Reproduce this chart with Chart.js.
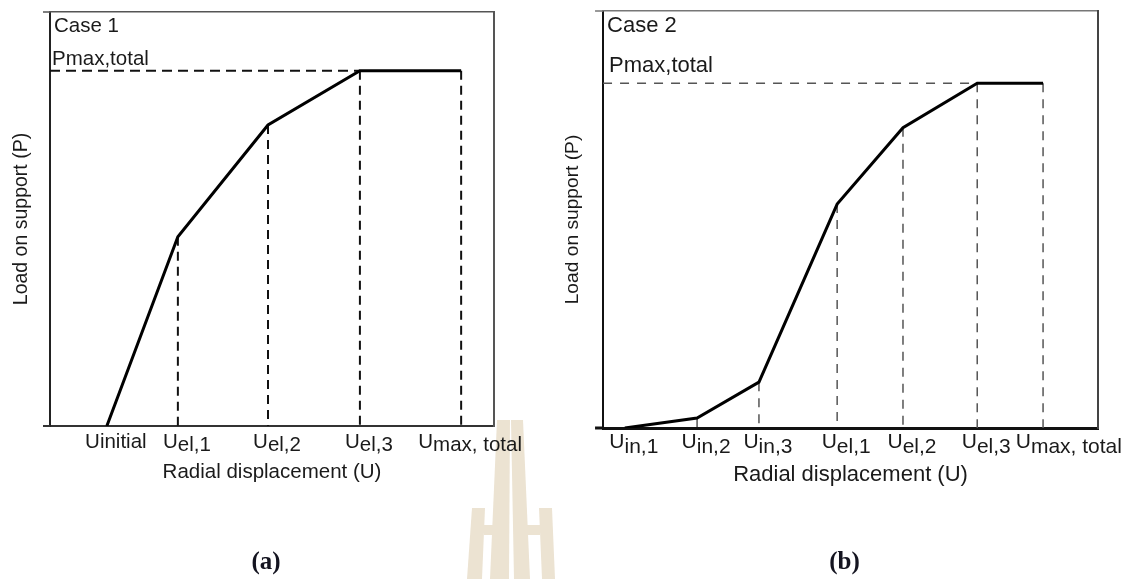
<!DOCTYPE html>
<html>
<head>
<meta charset="utf-8">
<title>Load on support vs radial displacement</title>
<script src="https://cdn.jsdelivr.net/npm/chart.js@4.4.1/dist/chart.umd.min.js"></script>
<style>
  html, body { margin: 0; padding: 0; background: #fff; }
  #page { position: relative; width: 1142px; height: 579px; overflow: hidden; }
  #page canvas { position: absolute; top: 0; z-index: 1; }
  #chartA { left: 0; }
  #chartB { left: 560px; }
  #mark { position: absolute; left: 0; top: 0; z-index: 0; }
</style>
</head>
<body>
<div id="page">
  <svg id="mark" width="1142" height="579">
    <g fill="#ece3d2">
      <polygon points="497,420 510,420 509,579 490,579"/>
      <polygon points="511,420 523,420 530,579 514,579"/>
      <polygon points="472,508 485,508 482,579 467,579"/>
      <polygon points="539,508 552,508 555,579 542,579"/>
      <rect x="484" y="525" width="10" height="10"/>
      <rect x="526" y="525" width="14" height="10"/>
    </g>
  </svg>
  <canvas id="chartA" width="560" height="579"></canvas>
  <canvas id="chartB" width="582" height="579"></canvas>
</div>
<script>
// Case 1 (a)
const labelsA = ['Uinitial', 'Uel,1', 'Uel,2', 'Uel,3', 'Umax, total'];
const dispA = [12.8, 28.8, 49.1, 69.8, 92.6];
const loadA = [0, 45.7, 72.7, 85.8, 85.8];

// Case 2 (b)
const labelsB = ['Uin,1', 'Uin,2', 'Uin,3', 'Uel,1', 'Uel,2', 'Uel,3', 'Umax, total'];
const dispB = [4.4, 19.0, 31.5, 47.3, 60.6, 75.6, 88.9];
const loadB = [0, 2.4, 11.0, 53.7, 72.0, 82.7, 82.7];

const SANS = '"Liberation Sans", Arial, sans-serif';

// draws the subscript tick labels, the case name, Pmax label and panel letter
const panelText = {
    id: 'panelText',
    afterDraw(chart, args, o) {
        const ctx = chart.ctx;
        const area = chart.chartArea;
        const xs = chart.scales.x, ys = chart.scales.y;
        ctx.save();
        ctx.fillStyle = '#1a1a1a';
        ctx.textBaseline = 'alphabetic';
        ctx.textAlign = 'left';

        // little overhang of the bottom axis and top frame to the left
        ctx.strokeStyle = o.axisColor;
        ctx.lineWidth = o.axisWidth;
        ctx.beginPath();
        ctx.moveTo(area.left - o.overhang, area.bottom);
        ctx.lineTo(area.left, area.bottom);
        ctx.stroke();
        ctx.strokeStyle = o.topColor;
        ctx.lineWidth = 1.5;
        ctx.beginPath();
        ctx.moveTo(area.left - o.overhang, area.top);
        ctx.lineTo(area.left, area.top);
        ctx.stroke();

        ctx.font = o.tickSize + 'px ' + SANS;
        let prevRight = -Infinity;
        for (let i = 0; i < o.labels.length; i++) {
            const main = o.labels[i].charAt(0);
            const sub = o.labels[i].slice(1);
            const wm = ctx.measureText(main).width;
            const w = wm + ctx.measureText(sub).width;
            let left = xs.getPixelForValue(o.at[i]) + 9 - w / 2;
            if (left < prevRight + 5) left = prevRight + 5;
            const base = area.bottom + o.tickGap;
            ctx.fillText(main, left, base);
            ctx.fillText(sub, left + wm, base + (o.flat.indexOf(i) >= 0 ? 0 : o.subDrop));
            prevRight = left + w;
        }

        ctx.font = o.textSize + 'px ' + SANS;
        ctx.fillText(o.caseName, area.left + 4, area.top + o.caseBase);
        ctx.fillText('Pmax,total', area.left + o.pmaxLeft, ys.getPixelForValue(o.pmax) - o.pmaxLift);

        ctx.font = 'bold 25px "Liberation Serif", "Times New Roman", serif';
        ctx.textAlign = 'center';
        ctx.fillStyle = '#141420';
        ctx.fillText(o.letter, (area.left + area.right) / 2 - 6, o.letterBase);
        ctx.restore();
    }
};

function guides(disp, load, color, width, dash, hdash) {
    let sets = [];
    for (let i = 1; i < disp.length; i++) {
        sets.push({
            data: [{x: disp[i], y: load[i]}, {x: disp[i], y: 0}],
            borderColor: color, borderWidth: width, borderDash: dash,
            pointRadius: 0, fill: false
        });
    }
    const top = Math.max.apply(null, load);
    const k = load.indexOf(top);
    sets.push({
        data: [{x: 0, y: top}, {x: disp[k], y: top}],
        borderColor: color, borderWidth: width, borderDash: hdash,
        pointRadius: 0, fill: false
    });
    return sets;
}

function makeChart(id, s) {
    const curve = s.disp.map((d, i) => ({x: d, y: s.load[i]}));
    const datasets = [{
        data: curve,
        borderColor: '#000', borderWidth: 3, tension: 0,
        pointRadius: 0, fill: false, borderJoinStyle: 'miter'
    }].concat(guides(s.disp, s.load, s.guideColor, s.guideWidth, s.dash, s.hdash));

    const hidden = {display: false, drawTicks: false};
    return new Chart(document.getElementById(id).getContext('2d'), {
        type: 'line',
        data: {datasets: datasets},
        options: {
            responsive: false,
            animation: false,
            devicePixelRatio: 1,
            events: [],
            layout: {autoPadding: false, padding: s.padding},
            plugins: {
                legend: {display: false},
                tooltip: {enabled: false},
                panelText: {
                    labels: s.labels, at: s.disp, flat: s.flat,
                    tickSize: s.tickSize, tickGap: s.tickGap, subDrop: s.subDrop,
                    textSize: s.textSize, caseName: s.caseName, caseBase: s.caseBase,
                    pmax: Math.max.apply(null, s.load), pmaxLeft: s.pmaxLeft, pmaxLift: s.pmaxLift,
                    letter: s.letter, letterBase: 569,
                    axisColor: s.xAxis[0], axisWidth: s.xAxis[1], topColor: s.topColor,
                    overhang: s.overhang
                }
            },
            scales: {
                x: {
                    type: 'linear', min: 0, max: 100,
                    grid: hidden, ticks: {display: false},
                    border: {display: true, color: s.xAxis[0], width: s.xAxis[1]},
                    title: {
                        display: true, text: 'Radial displacement (U)', color: '#1a1a1a',
                        font: {family: SANS, size: s.xTitleSize},
                        padding: {top: s.xTitlePad, bottom: 0}
                    }
                },
                y: {
                    type: 'linear', min: 0, max: 100,
                    grid: hidden, ticks: {display: false},
                    border: {display: true, color: s.yAxis[0], width: s.yAxis[1]},
                    title: {
                        display: true, text: 'Load on support (P)', color: '#1a1a1a',
                        font: {family: SANS, size: s.yTitleSize},
                        padding: s.yTitlePad
                    }
                },
                x2: {
                    type: 'linear', position: 'top', min: 0, max: 1,
                    grid: hidden, ticks: {display: false},
                    border: {display: true, color: s.topColor, width: 1.5}
                },
                y2: {
                    type: 'linear', position: 'right', min: 0, max: 1,
                    grid: hidden, ticks: {display: false},
                    border: {display: true, color: s.rightColor, width: 2}
                }
            }
        },
        plugins: [panelText]
    });
}

document.addEventListener('DOMContentLoaded', function () {
    makeChart('chartA', {
        labels: labelsA, disp: dispA, load: loadA, flat: [0],
        padding: {left: 0, top: 12, right: 66, bottom: 94.7},
        guideColor: '#111', guideWidth: 2, dash: [9, 6], hdash: [10, 6],
        xAxis: ['#333', 2], yAxis: ['#222', 2], topColor: '#555', rightColor: '#555',
        xTitleSize: 20.5, xTitlePad: 33.7,
        yTitleSize: 19.5, yTitlePad: {top: 10, bottom: 16.6},
        tickSize: 20.5, tickGap: 22, subDrop: 3,
        textSize: 20.5, caseName: 'Case 1', caseBase: 20,
        pmaxLeft: 2, pmaxLift: 6, letter: '(a)', overhang: 7
    });
    makeChart('chartB', {
        labels: labelsB, disp: dispB, load: loadB, flat: [],
        padding: {left: 0, top: 11, right: 44, bottom: 90.8},
        guideColor: '#555', guideWidth: 1.5, dash: [9, 7], hdash: [9, 8],
        xAxis: ['#111', 3], yAxis: ['#111', 2], topColor: '#777', rightColor: '#444',
        xTitleSize: 22, xTitlePad: 33.8,
        yTitleSize: 19.2, yTitlePad: {top: 1.5, bottom: 18.5},
        tickSize: 21, tickGap: 20, subDrop: 4.5,
        textSize: 22, caseName: 'Case 2', caseBase: 21,
        pmaxLeft: 6, pmaxLift: 11, letter: '(b)', overhang: 8
    });
});
</script>
</body>
</html>
